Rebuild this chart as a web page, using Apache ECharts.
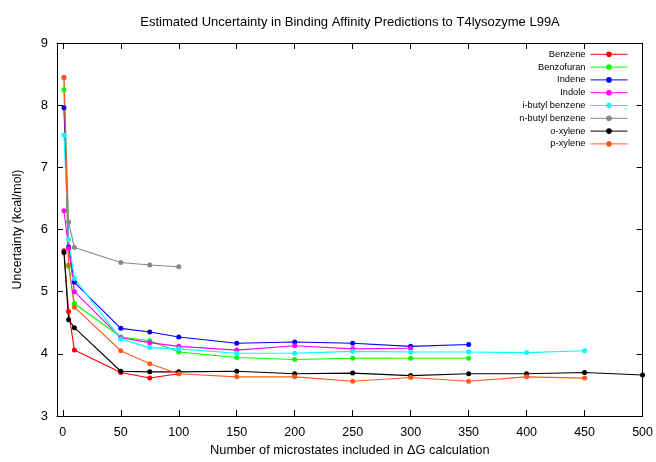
<!DOCTYPE html>
<html>
<head>
    <meta charset="utf-8">
    <title>ECharts</title>
    <script src="https://cdn.jsdelivr.net/npm/echarts@6/dist/echarts.min.js"></script>
    <style>body{margin:0;background:#fff;}</style>
</head>
<body>
<div id="main" style="width: 656px;height:462px;"></div>
<script type="text/javascript">
    var myChart = echarts.init(document.getElementById('main'));

    // x values = number of microstates
    var xBenzene = [1, 5, 10, 50, 75, 100];
    var benzene = [5.66, 4.68, 4.06, 3.70, 3.61, 3.68];

    var xBenzofuran = [1, 5, 10, 50, 75, 100, 150, 200, 250, 300, 350];
    var benzofuran = [8.25, 5.41, 4.81, 4.27, 4.21, 4.03, 3.94, 3.91, 3.93, 3.93, 3.93];

    var xIndene = [1, 5, 10, 50, 75, 100, 150, 200, 250, 300, 350];
    var indene = [7.96, 5.72, 5.15, 4.41, 4.35, 4.27, 4.17, 4.19, 4.17, 4.12, 4.15];

    var xIndole = [1, 5, 10, 50, 75, 100, 150, 200, 250, 300];
    var indole = [6.30, 5.70, 5.00, 4.26, 4.18, 4.12, 4.06, 4.13, 4.08, 4.09];

    var xIButyl = [1, 5, 10, 50, 75, 100, 150, 200, 250, 300, 350, 400, 450];
    var iButyl = [7.52, 5.84, 5.21, 4.24, 4.10, 4.08, 4.01, 4.01, 4.04, 4.03, 4.03, 4.02, 4.05];

    var xNButyl = [1, 5, 10, 50, 75, 100];
    var nButyl = [8.45, 6.12, 5.71, 5.47, 5.43, 5.40];

    var xOXylene = [1, 5, 10, 50, 75, 100, 150, 200, 250, 300, 350, 400, 450, 500];
    var oXylene = [5.63, 4.55, 4.42, 3.72, 3.71, 3.71, 3.72, 3.68, 3.69, 3.65, 3.68, 3.68, 3.70, 3.66];

    var xPXylene = [1, 5, 10, 50, 75, 100, 150, 200, 250, 300, 350, 400, 450];
    var pXylene = [8.44, 5.43, 4.75, 4.05, 3.84, 3.68, 3.63, 3.63, 3.56, 3.62, 3.56, 3.63, 3.61];

    var xTicks = [0, 50, 100, 150, 200, 250, 300, 350, 400, 450, 500];

    var seriesDefs = [
        ['Benzene', xBenzene, benzene, '#ff0000'],
        ['Benzofuran', xBenzofuran, benzofuran, '#00ff00'],
        ['Indene', xIndene, indene, '#0000ff'],
        ['Indole', xIndole, indole, '#ff00ff'],
        ['i-butyl benzene', xIButyl, iButyl, '#00ffff'],
        ['n-butyl benzene', xNButyl, nButyl, '#888888'],
        ['o-xylene', xOXylene, oXylene, '#000000'],
        ['p-xylene', xPXylene, pXylene, '#ff5a1a']
    ];

    function pairs(xs, ys) {
        var out = [];
        for (var i = 0; i < xs.length; i++) out.push([xs[i], ys[i]]);
        return out;
    }

    var series = seriesDefs.map(function (d) {
        return {
            name: d[0],
            type: 'line',
            data: pairs(d[1], d[2]),
            symbol: 'circle',
            symbolSize: 5,
            itemStyle: {color: d[3]},
            lineStyle: {width: 1.1, color: d[3]},
            animation: false
        };
    });

    var font = 'Liberation Sans, Arial, sans-serif';
    var tickCommon = {show: true, inside: true, length: 6, lineStyle: {color: '#000'}};

    option = {
        backgroundColor: '#fff',
        title: {
            text: 'Estimated Uncertainty in Binding Affinity Predictions to T4lysozyme L99A',
            left: 350, top: 16, textAlign: 'center', padding: 0,
            textStyle: {fontFamily: font, fontSize: 13, fontWeight: 'normal', color: '#000'}
        },
        legend: {
            orient: 'vertical',
            right: 28, top: 49.3, padding: 0,
            align: 'right',
            itemWidth: 37, itemHeight: 7, itemGap: 2.8,
            lineStyle: {width: 1},
            textStyle: {fontFamily: font, fontSize: 9.3, lineHeight: 10, color: '#000', padding: [0, 0, 0, 0]},
            data: seriesDefs.map(function (d) { return d[0]; })
        },
        grid: {left: 57, right: 13, top: 43, bottom: 39},
        xAxis: [{
            type: 'value', min: -5, max: 500,
            name: 'Number of microstates included in \u0394G calculation',
            nameLocation: 'middle', nameGap: 28,
            nameTextStyle: {fontFamily: font, fontSize: 12.8, color: '#000'},
            axisLine: {show: true, onZero: false, lineStyle: {color: '#000'}},
            axisTick: Object.assign({customValues: xTicks}, tickCommon),
            axisLabel: {customValues: xTicks, fontFamily: font, fontSize: 12.5, color: '#000', margin: 10},
            splitLine: {show: false}
        }, {
            type: 'value', min: -5, max: 500, position: 'top',
            axisLine: {show: true, onZero: false, lineStyle: {color: '#000'}},
            axisTick: Object.assign({customValues: xTicks}, tickCommon),
            axisLabel: {show: false},
            splitLine: {show: false}
        }],
        yAxis: [{
            type: 'value', min: 3, max: 9, interval: 1,
            name: 'Uncertainty (kcal/mol)',
            nameLocation: 'middle', nameGap: 33,
            nameTextStyle: {fontFamily: font, fontSize: 12.4, color: '#000'},
            axisLine: {show: true, onZero: false, lineStyle: {color: '#000'}},
            axisTick: tickCommon,
            axisLabel: {fontFamily: font, fontSize: 13, color: '#000', margin: 9},
            splitLine: {show: false}
        }, {
            type: 'value', min: 3, max: 9, interval: 1, position: 'right',
            axisLine: {show: true, onZero: false, lineStyle: {color: '#000'}},
            axisTick: tickCommon,
            axisLabel: {show: false},
            splitLine: {show: false}
        }],
        series: series
    };
    myChart.setOption(option);
</script>
</body>
</html>
